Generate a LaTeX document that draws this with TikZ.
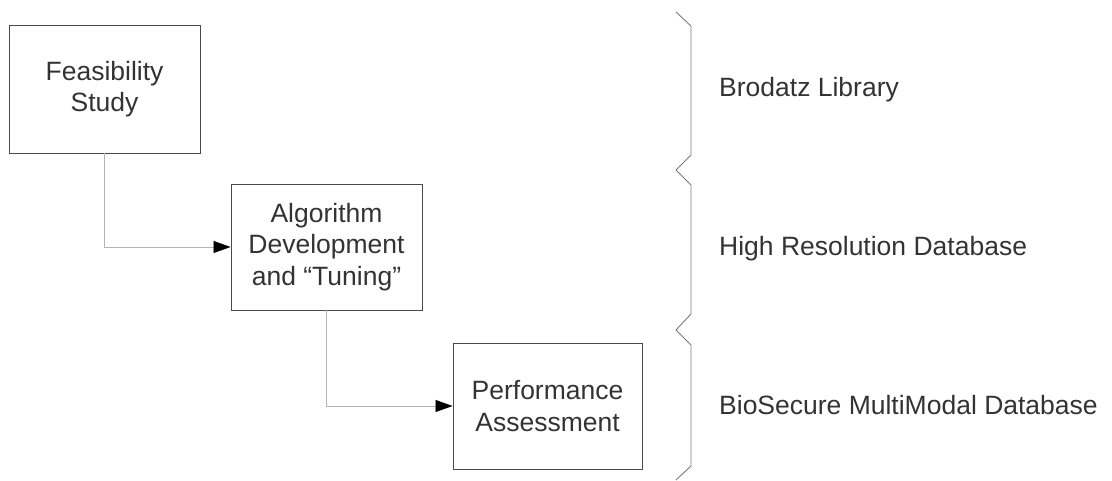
\documentclass[tikz,border=0pt]{standalone}
\usepackage{fontspec}
\setmainfont{Liberation Sans}
\usetikzlibrary{arrows.meta}
\definecolor{boxline}{HTML}{4A4A4A}
\definecolor{connline}{HTML}{B4B4B4}
\definecolor{braceline}{HTML}{7A7A7A}
\definecolor{inkgray}{HTML}{333333}
\begin{document}
\begin{tikzpicture}[x=1pt,y=-1pt,
  stagebox/.style={draw=boxline, line width=0.9pt, rectangle, inner sep=0pt,
    align=center, text=inkgray,
    font=\fontsize{26.5}{31.5}\selectfont},
  conn/.style={draw=connline, line width=0.7pt,
    -{Triangle[length=17pt,width=12pt,color=black]}},
  bracepath/.style={draw=braceline, line width=0.9pt, line join=miter},
  dblabel/.style={anchor=west, inner sep=0pt, text=inkgray,
    font=\fontsize{26.5}{31.5}\selectfont}]
  \useasboundingbox (0,0) rectangle (1112,481);

  % process stages
  \node[stagebox, minimum width=191pt, minimum height=128pt] (fs) at (104.5,89)
    {Feasibility\\Study};
  \node[stagebox, minimum width=191pt, minimum height=126pt] (ad) at (326.5,247)
    {Algorithm\\Development\\and “Tuning”};
  \node[stagebox, minimum width=189pt, minimum height=126pt] (pa) at (547.5,406)
    {Performance\\Assessment};

  % flow between stages
  \draw[conn] (fs.south) |- (ad.west);
  \draw[conn] (ad.south) |- (pa.west);

  % brackets grouping the stages by data set
  \path[bracepath] (676,12) -- (691,26) -- (691,155) -- (676,170)
    -- (691,185) -- (691,314) -- (676,330) -- (691,345) -- (691,466) -- (676,480);

  % data sets
  \node[dblabel] (bl) at (719,90) {Brodatz Library};
  \node[dblabel] (hr) at (719,249) {High Resolution Database};
  \node[dblabel] (bs) at (719,405) {BioSecure MultiModal Database};
\end{tikzpicture}
\end{document}
